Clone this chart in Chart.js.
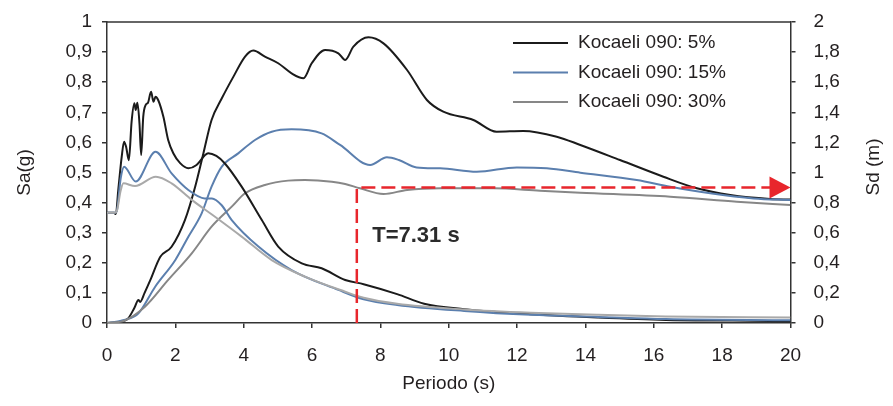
<!DOCTYPE html>
<html lang="es">
<head>
<meta charset="utf-8">
<title>Espectros Kocaeli 090</title>
<script src="https://cdn.jsdelivr.net/npm/chart.js@4.4.1/dist/chart.umd.min.js"></script>
<style>
  html, body { margin: 0; padding: 0; background: #fff; }
  canvas { display: block; }
</style>
</head>
<body>
<canvas id="espectros" width="893" height="406"></canvas>
<script>
// Espectros de respuesta: Sa (g, eje izquierdo) y Sd (m, eje derecho)
const etiquetas = ['Kocaeli 090: 5%', 'Kocaeli 090: 15%', 'Kocaeli 090: 30%'];

// Sa - amortiguamiento 5%
const periodoSa5 = [0, 0.2, 0.26, 0.33, 0.43, 0.5, 0.56, 0.64, 0.72, 0.8, 0.84, 0.89, 0.95, 1.0, 1.06, 1.13, 1.2, 1.29, 1.36, 1.42, 1.5, 1.65, 1.79, 1.94, 2.14, 2.38, 2.62, 2.87, 2.96, 3.2, 3.45, 3.94, 4.53, 5.01, 5.7, 6.28, 6.97, 7.51, 8.49, 9.28, 10.45, 12.4, 14.37, 16.35, 18.31, 20];
const sa5 = [0.366, 0.366, 0.362, 0.442, 0.552, 0.602, 0.585, 0.541, 0.669, 0.730, 0.708, 0.732, 0.663, 0.558, 0.685, 0.724, 0.732, 0.768, 0.735, 0.752, 0.740, 0.685, 0.608, 0.564, 0.531, 0.514, 0.525, 0.558, 0.564, 0.555, 0.530, 0.453, 0.342, 0.254, 0.198, 0.182, 0.143, 0.129, 0.096, 0.064, 0.046, 0.029, 0.018, 0.010, 0.008, 0.006];

// Sa - 15%
const periodoSa15 = [0, 0.2, 0.28, 0.4, 0.5, 0.84, 1.42, 1.89, 2.38, 2.86, 3.07, 3.35, 3.65, 4.43, 5.4, 6.77, 7.51, 8.49, 10.45, 12.4, 14.37, 16.35, 20];
const sa15 = [0.366, 0.366, 0.37, 0.48, 0.519, 0.470, 0.569, 0.497, 0.442, 0.414, 0.414, 0.392, 0.342, 0.254, 0.176, 0.110, 0.079, 0.060, 0.040, 0.027, 0.020, 0.013, 0.009];

// Sa - 30%
const periodoSa30 = [0, 0.2, 0.28, 0.4, 0.48, 0.82, 1.43, 1.89, 2.48, 3.16, 3.94, 4.82, 5.79, 6.97, 7.51, 8.49, 10.45, 12.4, 14.37, 16.35, 20];
const sa30 = [0.366, 0.366, 0.37, 0.44, 0.464, 0.455, 0.486, 0.464, 0.409, 0.353, 0.287, 0.209, 0.154, 0.104, 0.084, 0.064, 0.045, 0.034, 0.027, 0.022, 0.018];

// Sd - 5%
const periodoSd5 = [0, 0.3, 0.62, 0.8, 0.92, 0.97, 1.1, 1.27, 1.56, 1.89, 2.28, 2.58, 2.82, 3.06, 3.36, 3.70, 4.04, 4.28, 4.62, 5.01, 5.40, 5.75, 5.99, 6.38, 6.77, 6.97, 7.21, 7.65, 8.09, 8.78, 9.36, 9.84, 10.72, 11.4, 12.18, 13.16, 13.85, 15.01, 16.28, 17.26, 18.24, 19.4, 20];
const sd5 = [0, 0.005, 0.031, 0.10, 0.153, 0.14, 0.20, 0.286, 0.44, 0.507, 0.684, 0.906, 1.127, 1.349, 1.493, 1.637, 1.77, 1.81, 1.77, 1.726, 1.659, 1.626, 1.726, 1.814, 1.792, 1.748, 1.836, 1.898, 1.858, 1.681, 1.482, 1.404, 1.349, 1.271, 1.276, 1.238, 1.183, 1.083, 0.972, 0.895, 0.85, 0.824, 0.82];

// Sd - 15%
const periodoSd15 = [0, 0.5, 0.92, 1.41, 2.0, 2.38, 2.77, 3.06, 3.36, 3.84, 4.33, 4.82, 5.40, 6.28, 6.82, 7.70, 8.19, 8.54, 9.06, 9.75, 10.82, 11.99, 12.87, 13.85, 15.5, 16.48, 17.65, 18.92, 20];
const sd15 = [0, 0.02, 0.064, 0.241, 0.419, 0.573, 0.729, 0.906, 1.039, 1.127, 1.216, 1.271, 1.287, 1.26, 1.183, 1.05, 1.101, 1.083, 1.034, 1.028, 1.005, 1.034, 1.028, 0.999, 0.95, 0.906, 0.862, 0.828, 0.817];

// Sd - 30%
const periodoSd30 = [0, 0.5, 1.11, 1.79, 2.48, 3.06, 3.65, 4.04, 4.62, 5.3, 5.79, 6.58, 6.97, 7.4, 8.09, 8.78, 9.75, 11.3, 12.67, 13.85, 16.48, 18.43, 20];
const sd30 = [0, 0.015, 0.108, 0.286, 0.463, 0.64, 0.773, 0.862, 0.917, 0.946, 0.95, 0.939, 0.924, 0.895, 0.857, 0.884, 0.895, 0.895, 0.879, 0.866, 0.839, 0.806, 0.784];

// Periodo marcado y su desplazamiento
const periodoT = 7.31;
const sdT = 0.9;

const fuente = "'Liberation Sans', Arial, sans-serif";
const colorTexto = '#231f20';
const colorEje = '#333333';
const colorNegro = '#1b1b1b';
const colorAzul = '#5b7fae';
const colorGrisClaro = '#a9a9a9';
const colorGris = '#878787';
const colorRojo = '#e8262c';

function puntos(periodos, valores) {
    return periodos.map((t, i) => ({ x: t, y: valores[i] }));
}

function formatoComa(v) {
    const r = Math.round(v * 10) / 10;
    return String(r).replace('.', ',');
}

function serie(periodos, valores, color, eje) {
    return {
        data: puntos(periodos, valores),
        borderColor: color,
        borderWidth: 2,
        pointRadius: 0,
        cubicInterpolationMode: 'monotone',
        fill: false,
        yAxisID: eje
    };
}

// leyenda, titulo del eje derecho y marca del periodo T
const extras = {
    id: 'extras',
    afterDatasetsDraw(chart) {
        const { ctx, chartArea, scales } = chart;
        const x = scales.x, y2 = scales.y2;

        // marco superior
        ctx.save();
        ctx.strokeStyle = colorEje;
        ctx.lineWidth = 1.5;
        ctx.beginPath();
        ctx.moveTo(chartArea.left, chartArea.top);
        ctx.lineTo(chartArea.right, chartArea.top);
        ctx.stroke();

        // linea discontinua roja
        const px = x.getPixelForValue(periodoT);
        const py = y2.getPixelForValue(sdT);
        const pxFin = x.getPixelForValue(20);
        ctx.strokeStyle = colorRojo;
        ctx.lineWidth = 2.5;
        ctx.setLineDash([14, 6]);
        ctx.beginPath();
        ctx.moveTo(px, y2.getPixelForValue(0));
        ctx.lineTo(px, py);
        ctx.lineTo(pxFin - 20, py);
        ctx.stroke();
        ctx.setLineDash([]);
        ctx.fillStyle = colorRojo;
        ctx.beginPath();
        ctx.moveTo(pxFin, py);
        ctx.lineTo(pxFin - 21, py - 11);
        ctx.lineTo(pxFin - 21, py + 11);
        ctx.closePath();
        ctx.fill();

        // texto T
        ctx.fillStyle = '#2b2b2b';
        ctx.font = 'bold 22px ' + fuente;
        ctx.textAlign = 'left';
        ctx.textBaseline = 'middle';
        ctx.fillText('T=' + periodoT + ' s', x.getPixelForValue(7.76), scales.y.getPixelForValue(0.289));

        // leyenda
        const coloresLeyenda = [colorNegro, colorAzul, colorGris];
        ctx.font = '19px ' + fuente;
        ctx.fillStyle = colorTexto;
        etiquetas.forEach((texto, i) => {
            const yl = 43 + i * 29.5;
            ctx.strokeStyle = coloresLeyenda[i];
            ctx.lineWidth = 2;
            ctx.beginPath();
            ctx.moveTo(513, yl);
            ctx.lineTo(568, yl);
            ctx.stroke();
            ctx.fillText(texto, 578, yl);
        });

        // titulo eje derecho, leido de abajo hacia arriba
        ctx.translate(874, 167);
        ctx.rotate(-Math.PI / 2);
        ctx.textAlign = 'center';
        ctx.font = '19px ' + fuente;
        ctx.fillText('Sd (m)', 0, 0);
        ctx.restore();
    }
};

const ejeComun = {
    grid: { drawOnChartArea: false, drawTicks: true, tickLength: 5, color: colorEje, lineWidth: 1.5 },
    border: { display: true, color: colorEje, width: 1.5 }
};

const ctx = document.getElementById('espectros').getContext('2d');
new Chart(ctx, {
    type: 'line',
    data: {
        datasets: [
            serie(periodoSa30, sa30, colorGrisClaro, 'y'),
            serie(periodoSa15, sa15, colorAzul, 'y'),
            serie(periodoSa5, sa5, colorNegro, 'y'),
            serie(periodoSd30, sd30, colorGris, 'y2'),
            serie(periodoSd15, sd15, colorAzul, 'y2'),
            serie(periodoSd5, sd5, colorNegro, 'y2')
        ]
    },
    options: {
        responsive: false,
        animation: false,
        devicePixelRatio: 1,
        layout: { padding: { top: 22, left: 0, right: 0, bottom: 0 } },
        plugins: {
            legend: { display: false },
            tooltip: { enabled: false }
        },
        scales: {
            x: {
                type: 'linear',
                min: 0,
                max: 20,
                ...ejeComun,
                ticks: { stepSize: 2, color: colorTexto, font: { family: fuente, size: 19 }, padding: 16, maxRotation: 0 },
                title: { display: true, text: 'Periodo (s)', color: colorTexto, font: { family: fuente, size: 19 }, padding: { top: 0, bottom: 11 } },
                afterFit(scale) { scale.height = 83; }
            },
            y: {
                position: 'left',
                min: 0,
                max: 1,
                ...ejeComun,
                ticks: { stepSize: 0.1, color: colorTexto, font: { family: fuente, size: 19 }, padding: 10, callback: formatoComa },
                title: { display: true, text: 'Sa(g)', color: colorTexto, font: { family: fuente, size: 19 }, padding: { top: 13, bottom: 0 } },
                afterFit(scale) {
                    scale.width = 107;
                    scale.paddingTop = 0;
                    scale.paddingBottom = 0;
                }
            },
            y2: {
                position: 'right',
                min: 0,
                max: 2,
                ...ejeComun,
                ticks: { stepSize: 0.2, color: colorTexto, font: { family: fuente, size: 19 }, padding: 18, callback: formatoComa },
                afterFit(scale) {
                    scale.width = 102.5;
                    scale.paddingTop = 0;
                    scale.paddingBottom = 0;
                }
            }
        }
    },
    plugins: [extras]
});
</script>
</body>
</html>
